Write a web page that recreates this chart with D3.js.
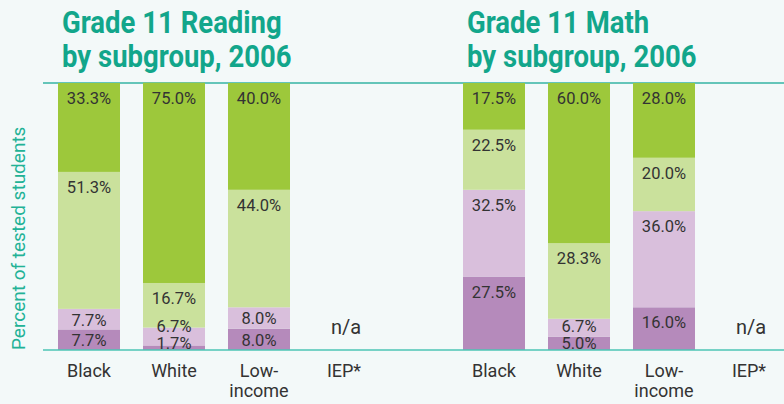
<!DOCTYPE html>
<html>
<head>
<meta charset="utf-8">
<script src="https://cdn.jsdelivr.net/npm/d3@7"></script>
<style>
  html, body { margin: 0; padding: 0; background: #f3f9f9; }
  svg { display: block; }
  text { font-family: Roboto, "DejaVu Sans", sans-serif; }
  .title { font-weight: bold; fill: #12a68b; }
  .val, .cat, .na { fill: #333; }
  .ylab { fill: #22b296; }
</style>
</head>
<body>
<div id="chart"></div>
<script>
// categories and levels (bottom of stack first)
const categories = ['Black', 'White', 'Low-income', 'IEP*'];
const catLabels = [['Black'], ['White'], ['Low-', 'income'], ['IEP*']];
const levels = ['lowest', 'low', 'mid', 'top'];
const levelColors = ['#b58abb', '#d9bfdc', '#cae19c', '#9dc83b'];

// values per category, bottom to top; null = n/a
const readingValues = [
  [7.7, 7.7, 51.3, 33.3],
  [1.7, 6.7, 16.7, 75.0],
  [8.0, 8.0, 44.0, 40.0],
  null
];
const mathValues = [
  [27.5, 32.5, 22.5, 17.5],
  [5.0, 6.7, 28.3, 60.0],
  [16.0, 36.0, 20.0, 28.0],
  null
];

const panels = [
  { title: ['Grade 11 Reading', 'by subgroup, 2006'], values: readingValues, x0: 58 },
  { title: ['Grade 11 Math', 'by subgroup, 2006'], values: mathValues, x0: 463 }
];

const W = 784, H = 404;
const plotTop = 83, plotBottom = 350;
const barW = 62, gap = 23;

const svg = d3.select('#chart').append('svg')
  .attr('width', W)
  .attr('height', H);

const y = d3.scaleLinear().domain([0, 100]).range([plotBottom, plotTop]);

// top rule
svg.append('line')
  .attr('x1', 43).attr('x2', W).attr('y1', plotTop).attr('y2', plotTop)
  .attr('stroke', '#35b3a3').attr('stroke-width', 1.5);

// y label
svg.append('text')
  .attr('class', 'ylab')
  .attr('transform', 'translate(25,' + plotBottom + ') rotate(-90)')
  .attr('font-size', '19px')
  .text('Percent of tested students');

panels.forEach(p => {
  const x = d3.scaleBand()
    .domain(categories)
    .range([p.x0, p.x0 + categories.length * barW + (categories.length - 1) * gap])
    .paddingInner(gap / (barW + gap))
    .paddingOuter(0);

  const g = svg.append('g');

  // title (condensed look via horizontal squeeze)
  const t = g.append('text')
    .attr('class', 'title')
    .attr('font-size', '32px')
    .attr('transform', 'translate(' + (p.x0 + 4) + ',0) scale(0.86,1)');
  p.title.forEach((line, i) => {
    t.append('tspan')
      .attr('x', 0)
      .attr('y', 33 + i * 34)
      .text(line);
  });

  categories.forEach((c, ci) => {
    const vals = p.values[ci];
    const cx = x(c) + x.bandwidth() / 2;
    if (vals === null) {
      g.append('text')
        .attr('class', 'na')
        .attr('x', cx + 2)
        .attr('y', 334)
        .attr('text-anchor', 'middle')
        .attr('font-size', '20px')
        .text('n/a');
    } else {
      const stack = d3.stack().keys(d3.range(vals.length))([vals]);
      const segs = stack.map((s, i) => ({ y0: s[0][0], y1: s[0][1], v: vals[i], color: levelColors[i] }));

      g.selectAll(null)
        .data(segs)
        .enter().append('rect')
          .attr('x', x(c))
          .attr('width', x.bandwidth())
          .attr('y', d => y(d.y1))
          .attr('height', d => y(d.y0) - y(d.y1))
          .attr('fill', d => d.color);

      // labels: near top of segment, pushed up so small ones don't collide
      let prev = plotBottom + 15;
      segs.forEach(d => {
        const segTop = y(d.y1);
        const h = y(d.y0) - y(d.y1);
        let base = segTop + Math.min(21, h / 2 + 6.5);
        base = Math.min(base, plotBottom + 1, prev - 16.5);
        prev = base;
        g.append('text')
          .attr('class', 'val')
          .attr('x', cx)
          .attr('y', base)
          .attr('text-anchor', 'middle')
          .attr('font-size', '16.5px')
          .text(d.v.toFixed(1) + '%');
      });
    }

    // category label
    const cl = g.append('text')
      .attr('class', 'cat')
      .attr('text-anchor', 'middle')
      .attr('font-size', '18px');
    catLabels[ci].forEach((line, li) => {
      cl.append('tspan')
        .attr('x', cx)
        .attr('y', 377 + li * 20)
        .text(line);
    });
  });
});

// baseline
svg.append('line')
  .attr('x1', 43).attr('x2', W).attr('y1', plotBottom).attr('y2', plotBottom)
  .attr('stroke', '#4cc4b4').attr('stroke-width', 1.5);
</script>
</body>
</html>
